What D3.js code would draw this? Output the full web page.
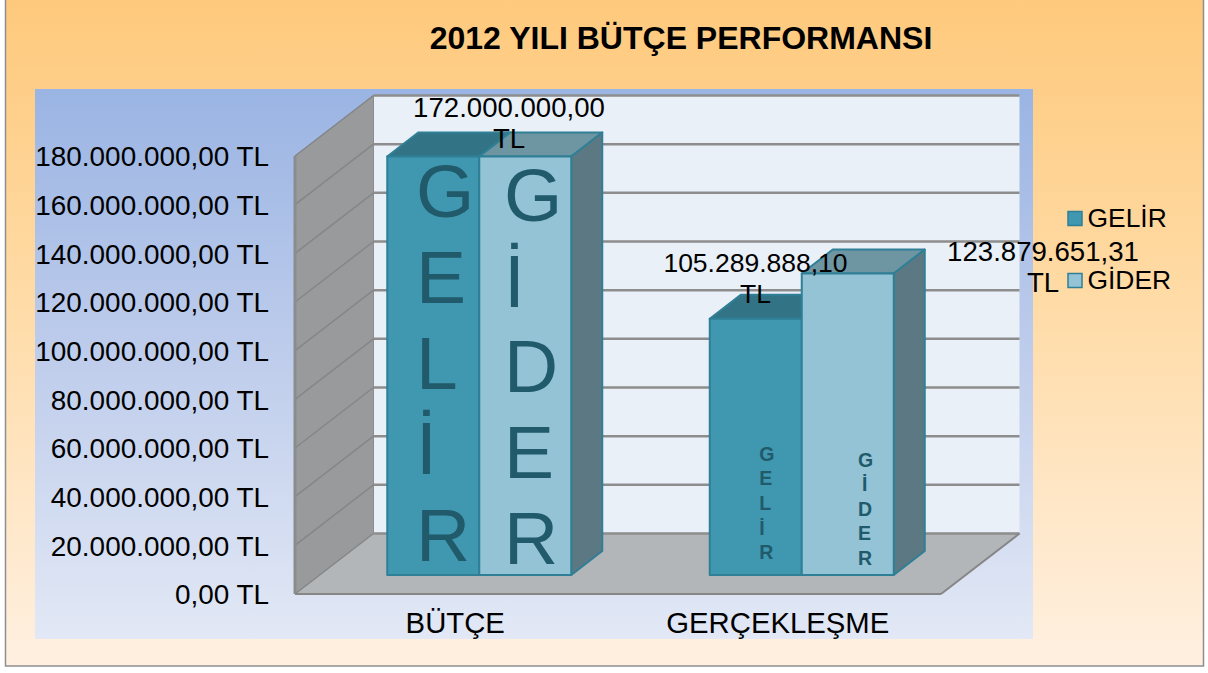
<!DOCTYPE html>
<html><head><meta charset="utf-8">
<script src="https://cdn.jsdelivr.net/npm/d3@7"></script>
<style>html,body{margin:0;padding:0;background:#fff}svg{display:block}text{font-family:"Liberation Sans",Arial,sans-serif;fill:#000}</style>
</head><body><div id="c"></div>
<script>
const title = "2012 YILI BÜTÇE PERFORMANSI";
const categories = ["BÜTÇE", "GERÇEKLEŞME"];
const seriesNames = ["GELİR", "GİDER"];
const gelirValues = [172000000.00, 105289888.10];
const giderValues = [172000000.00, 123879651.31];
const valueLabels = [["172.000.000,00", "TL"], ["105.289.888,10", "TL"], ["172.000.000,00", "TL"], ["123.879.651,31", "TL"]];
const yTicks = [0, 20e6, 40e6, 60e6, 80e6, 100e6, 120e6, 140e6, 160e6, 180e6];
const tickLabels = ["0,00 TL", "20.000.000,00 TL", "40.000.000,00 TL", "60.000.000,00 TL", "80.000.000,00 TL", "100.000.000,00 TL", "120.000.000,00 TL", "140.000.000,00 TL", "160.000.000,00 TL", "180.000.000,00 TL"];
const barLetters = [["G","E","L","İ","R"],["G","İ","D","E","R"]];
const seriesValues = [gelirValues, giderValues];

const W = 1208, H = 673;
const svg = d3.select("#c").append("svg").attr("width", W).attr("height", H);
const defs = svg.append("defs");
function grad(id, stops) {
  const g = defs.append("linearGradient").attr("id", id).attr("x1", 0).attr("y1", 0).attr("x2", 0).attr("y2", 1);
  stops.forEach(([o, c]) => g.append("stop").attr("offset", o).attr("stop-color", c));
}
grad("outer", [[0, "#fec97c"], [0.45, "#ffdba6"], [1, "#fff0e1"]]);
grad("panel", [[0, "#9ab4e3"], [0.45, "#bccbeb"], [1, "#e2e8f5"]]);

svg.append("rect").attr("x", 5.5).attr("y", -1).attr("width", 1198).attr("height", 667)
  .attr("fill", "url(#outer)").attr("stroke", "#8e8e8e").attr("stroke-width", 1.5);
svg.append("rect").attr("x", 35).attr("y", 89).attr("width", 998).attr("height", 550).attr("fill", "url(#panel)");

// scales
const x0 = 295, x1 = 941, yBottom = 594, yTop = 156;
const wallDx = 78.5, wallDy = -60.5;
const y = d3.scaleLinear().domain([0, 180e6]).range([yBottom, yTop]);
const x = d3.scaleBand().domain(categories).range([x0, x1 - 1]);
const xs = d3.scaleBand().domain(seriesNames).range([0, 184]);
const barInsetX = 23, barInsetY = -19, barDx = 31, barDy = -24;
const h = v => yBottom - y(v);

// walls
const pts = a => a.map(p => p.join(",")).join(" ");
const g = svg.append("g");
g.append("polygon").attr("points", pts([[x0 + wallDx, y(180e6) + wallDy], [x1 + wallDx, y(180e6) + wallDy], [x1 + wallDx, y(0) + wallDy], [x0 + wallDx, y(0) + wallDy]]))
  .attr("fill", "#e9f0f8");
g.append("polygon").attr("points", pts([[x0, y(180e6)], [x0 + wallDx, y(180e6) + wallDy], [x0 + wallDx, y(0) + wallDy], [x0, y(0)]]))
  .attr("fill", "#989a9b").attr("stroke", "#8a8c8e").attr("stroke-width", 1);
g.append("polygon").attr("points", pts([[x0, y(0)], [x1, y(0)], [x1 + wallDx, y(0) + wallDy], [x0 + wallDx, y(0) + wallDy]]))
  .attr("fill", "#b3b6b9");
g.selectAll("line.back").data(yTicks).join("line").attr("class", "back")
  .attr("x1", x0 + wallDx).attr("x2", x1 + wallDx)
  .attr("y1", d => y(d) + wallDy).attr("y2", d => y(d) + wallDy)
  .attr("stroke", "#8d8d8d").attr("stroke-width", 2.5);
g.selectAll("line.side").data(yTicks).join("line").attr("class", "side")
  .attr("x1", x0).attr("x2", x0 + wallDx)
  .attr("y1", d => y(d)).attr("y2", d => y(d) + wallDy)
  .attr("stroke", "#848688").attr("stroke-width", 1.5);
g.append("line").attr("x1", x0).attr("x2", x1).attr("y1", y(0)).attr("y2", y(0)).attr("stroke", "#868686").attr("stroke-width", 2);
g.append("line").attr("x1", x1).attr("x2", x1 + wallDx).attr("y1", y(0)).attr("y2", y(0) + wallDy).attr("stroke", "#868686").attr("stroke-width", 2);
g.append("line").attr("x1", x0).attr("x2", x0).attr("y1", y(0)).attr("y2", y(180e6)).attr("stroke", "#8a8c8e").attr("stroke-width", 3);

// bars
const colors = [{front: "#4097b0", top: "#327386", side: "#2f6c7e"}, {front: "#94c3d5", top: "#6e95a2", side: "#5c7983"}];
const edge = "#2f7f96";
const bars = svg.append("g");
seriesNames.forEach((s, si) => {
  categories.forEach((c, ci) => {
    const v = seriesValues[si][ci];
    const left = x(c) + (x.bandwidth() - xs.step() * 2) / 2 + xs(s) + barInsetX;
    const right = left + xs.bandwidth();
    const bot = y(0) + barInsetY;
    const top = bot - h(v);
    const b = bars.append("g").attr("stroke", edge).attr("stroke-width", 2).attr("stroke-linejoin", "round");
    b.append("polygon").attr("points", pts([[left, top], [right, top], [right + barDx, top + barDy], [left + barDx, top + barDy]])).attr("fill", colors[si].top);
    b.append("polygon").attr("points", pts([[right, top], [right + barDx, top + barDy], [right + barDx, bot + barDy], [right, bot]])).attr("fill", colors[si].side);
    b.append("rect").attr("x", left).attr("y", top).attr("width", right - left).attr("height", bot - top).attr("fill", colors[si].front);
  });
});

// letters inside bars (left-aligned stacks, as in the reference)
const letterColor = "#205a6b";
const bigX = [416, 504];
const bigBase = [[217, 303, 389, 474, 561], [221, 307, 392, 478, 564]];
const smallX = [759.3, 858];
const smallDx = [[0, 0, 0, 0, 0], [0, 4, 0, 0, 0]];
const smallBase = [[461, 485, 510, 535, 559], [466.5, 490.5, 515.5, 540, 565]];
barLetters.forEach((letters, si) => {
  letters.forEach((l, i) => {
    svg.append("text").attr("x", bigX[si]).attr("y", bigBase[si][i])
      .attr("font-size", 75).style("fill", letterColor).text(l);
    svg.append("text").attr("x", smallX[si] + smallDx[si][i]).attr("y", smallBase[si][i])
      .attr("font-size", 19.5).attr("font-weight", "bold").style("fill", letterColor).text(l);
  });
});

// axis
const axis = d3.axisLeft(y).tickValues(yTicks).tickSize(0).tickPadding(26)
  .tickFormat((d, i) => tickLabels[i]);
const ag = svg.append("g").attr("transform", `translate(${x0},1)`).call(axis);
ag.select(".domain").remove();
ag.selectAll("text").attr("font-size", 27.9).attr("font-family", '"Liberation Sans"').style("fill", "#000");

const xa = d3.axisBottom(x).tickSize(0).tickPadding(0);
const xg = svg.append("g").attr("transform", `translate(-1,612)`).call(xa);
xg.select(".domain").remove();
xg.selectAll("text").attr("font-size", 29.3).attr("font-family", '"Liberation Sans"').style("fill", "#000");

// value labels
const labelPos = [{x: 509, y: 117, s: 27.6}, {x: 755.5, y: 272, s: 26.5}, null, {x: 1043, y: 261, s: 27.6}];
valueLabels.forEach((lines, i) => {
  const p = labelPos[i];
  if (!p) return;
  lines.forEach((t, j) => svg.append("text").attr("x", p.x).attr("y", p.y + j * 31).attr("text-anchor", "middle").attr("font-size", p.s).text(t));
});

// legend
const legendY = [211.5, 273.5];
seriesNames.forEach((s, i) => {
  svg.append("rect").attr("x", 1068).attr("y", legendY[i]).attr("width", 14).attr("height", 14).attr("fill", colors[i].front).attr("stroke", edge).attr("stroke-width", 1.5);
  svg.append("text").attr("x", 1087.5).attr("y", legendY[i] + 15.5).attr("font-size", 26.4).text(s);
});

// title
svg.append("text").attr("x", 681).attr("y", 49).attr("text-anchor", "middle").attr("font-size", 32).attr("font-weight", "bold").text(title);
</script></body></html>
